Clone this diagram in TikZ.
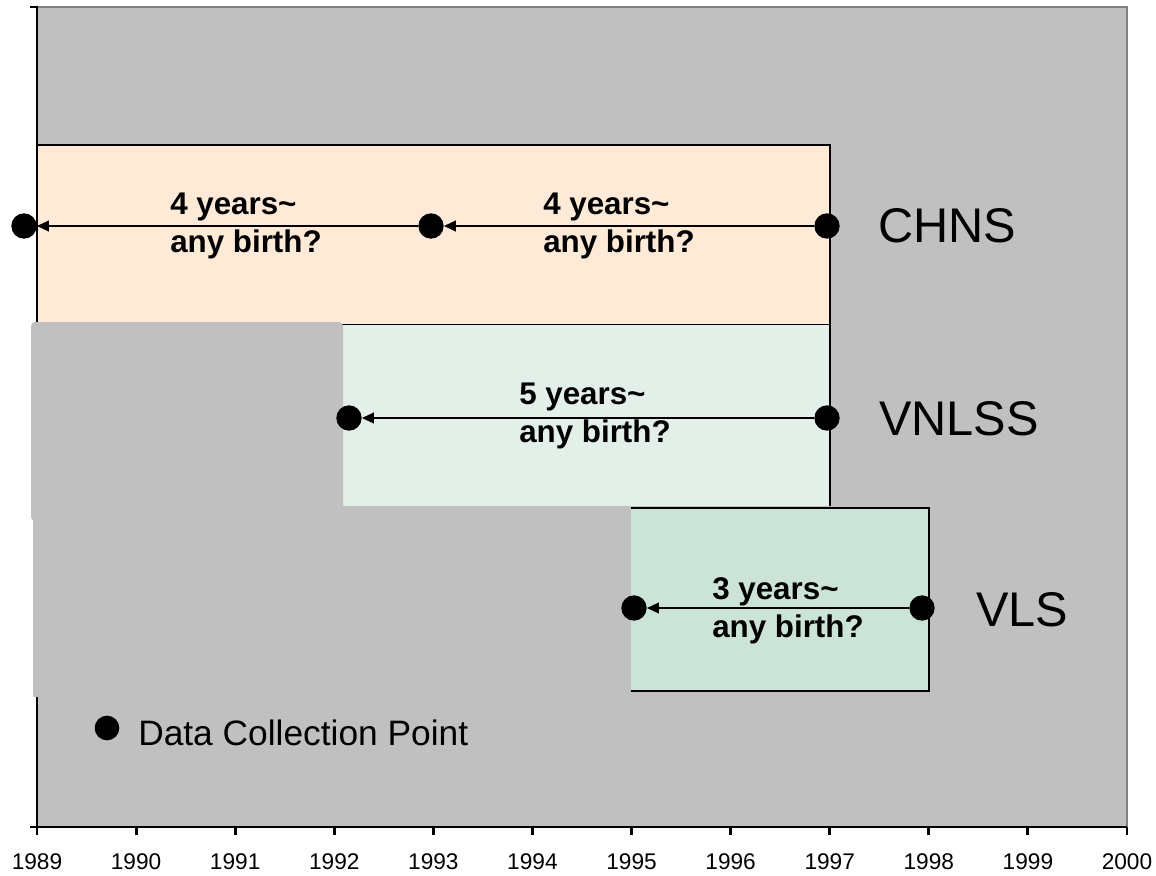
\documentclass[tikz,border=0pt]{standalone}
\usepackage{fontspec}
\setmainfont{Liberation Sans}
\usetikzlibrary{arrows.meta}
\definecolor{plotgray}{RGB}{192,192,192}
\definecolor{framegray}{RGB}{128,128,128}
\definecolor{chnsfill}{RGB}{255,234,215}
\definecolor{vnlssfill}{RGB}{227,240,233}
\definecolor{vlsfill}{RGB}{204,228,216}
\begin{document}
\begin{tikzpicture}[x=0.75pt,y=-0.75pt,
  dot/.style={circle,fill=black,inner sep=0pt,minimum size=19pt},
  boxline/.style={line width=1.6pt,black},
  axisline/.style={line width=2.2pt,black},
  conn/.style={line width=1.5pt,-{Triangle[length=9pt,width=8pt]}},
  gaplabel/.style={font=\fontsize{23.5}{28.3}\selectfont\bfseries,align=left,anchor=base west,inner sep=0pt},
  survey/.style={font=\fontsize{36.5}{40}\selectfont,anchor=base west,inner sep=0pt},
  yearlabel/.style={font=\fontsize{17}{20}\selectfont,anchor=base,inner sep=0pt}]
\useasboundingbox (0,0) rectangle (1156,875);
% plot area
\fill[plotgray] (37,7) rectangle (1127,827);
\draw[framegray,line width=2pt] (37,7) -- (1127,7) -- (1127,827);
% survey boxes
\fill[chnsfill] (37,145) rectangle (830,325);
\draw[boxline] (37,145) -- (830,145) -- (830,325) -- (37,325);
\fill[vnlssfill] (37,325) rectangle (830,506);
\draw[boxline] (830,325) -- (830,506);
\fill[vlsfill] (631,508) rectangle (929,691);
\draw[boxline] (631,508) -- (929,508) -- (929,691) -- (631,691);
% left axis
\draw[axisline] (30,7) -- (37,7) -- (37,827);
% grey cover
\fill[plotgray,rounded corners=3pt] (31,322) rectangle (343,521);
\fill[plotgray] (33,515) rectangle (631,697);
% bottom axis
\draw[axisline] (30,827) -- (1127,827);
\foreach \i in {0,...,11}{
  \pgfmathsetmacro{\xx}{37+99.09*\i}
  \pgfmathtruncatemacro{\yr}{1989+\i}
  \draw[axisline] (\xx,827) -- (\xx,835);
  \node[yearlabel] (y\yr) at (\xx,869) {\yr};
}
% data collection points
\node[dot] (c1) at (24,226) {};
\node[dot] (c2) at (431,226) {};
\node[dot] (c3) at (827,226) {};
\node[dot] (n1) at (349,418) {};
\node[dot] (n2) at (827,418) {};
\node[dot] (v1) at (634,608) {};
\node[dot] (v2) at (922,608) {};
\draw[conn] (c3) -- (c2);
\draw[conn] (c2) -- (c1);
\draw[conn] (n2) -- (n1);
\draw[conn] (v2) -- (v1);
% gap labels (anchor = baseline of last line)
\node[gaplabel] (g1) at (170,252) {4 years\textasciitilde\\any birth?};
\node[gaplabel] (g2) at (543,252) {4 years\textasciitilde\\any birth?};
\node[gaplabel] (g3) at (519,442) {5 years\textasciitilde\\any birth?};
\node[gaplabel] (g4) at (712,637) {3 years\textasciitilde\\any birth?};
% survey names
\node[survey] (chns) at (878,242) {CHNS};
\node[survey] (vnlss) at (879,435) {VNLSS};
\node[survey] (vls) at (976,626) {VLS};
% legend
\node[dot,minimum size=18.5pt] (ld) at (107,728) {};
\node[font=\fontsize{26.5}{30}\selectfont,anchor=base west,inner sep=0pt] (lt) at (138,745) {Data Collection Point};
\end{tikzpicture}
\end{document}
